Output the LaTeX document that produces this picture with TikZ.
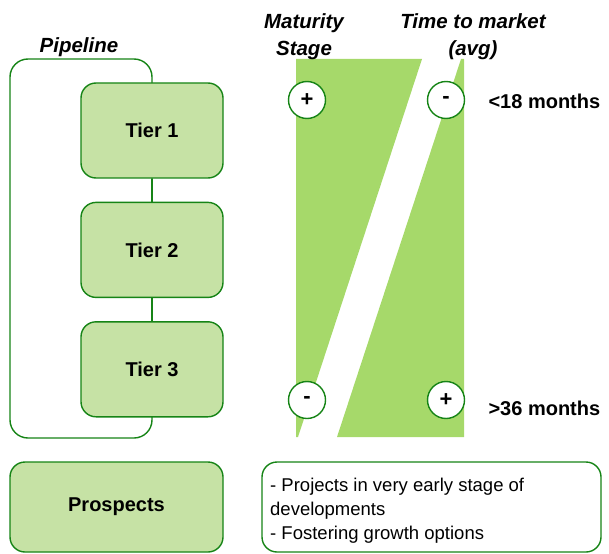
\documentclass[tikz,border=0pt]{standalone}
\definecolor{leafgreen}{RGB}{22,132,22}
\definecolor{tierfill}{RGB}{198,226,165}
\definecolor{stagegreen}{RGB}{166,217,106}
\usepackage{fontspec}
\setmainfont{Liberation Sans}
\usepackage{tikz}
\usetikzlibrary{positioning}
\tikzset{
  tier/.style={rectangle, rounded corners=15pt, draw=leafgreen, line width=1.4pt,
    fill=tierfill, text=black, font=\fontsize{20}{24}\selectfont\bfseries,
    minimum width=142pt, minimum height=95pt, inner sep=0pt},
  pipebox/.style={rectangle, rounded corners=18pt, draw=leafgreen, line width=1.4pt,
    fill=white, minimum width=142pt, minimum height=379pt, inner sep=0pt},
  notebox/.style={rectangle, rounded corners=15pt, draw=leafgreen, line width=1.4pt,
    fill=white, minimum width=339pt, minimum height=90pt, inner sep=0pt},
  signdot/.style={circle, draw=leafgreen, line width=1.4pt, fill=white,
    minimum size=37pt, inner sep=0pt, font=\fontsize{22}{24}\selectfont\bfseries},
  heading/.style={font=\fontsize{20.5}{27}\selectfont\bfseries\itshape, align=center},
  months/.style={anchor=west, font=\fontsize{20}{24}\selectfont\bfseries},
  link/.style={draw=leafgreen, line width=1.4pt},
}

\begin{document}
\begin{tikzpicture}[x=1pt, y=-1pt, node distance=23pt]
  \useasboundingbox (0,0) rectangle (609,553);
  % pipeline frame behind the tiers
  \node[pipebox] (pipe) at (81,248.5) {};
  \node[heading] (pipetitle) at (79,47) {Pipeline};
  \node[tier] (t1) at (152,130.5) {Tier 1};
  \node[tier, below=of t1] (t2) {Tier 2};
  \node[tier, below=of t2] (t3) {Tier 3};
  \draw[link] (t1)--(t2); \draw[link] (t2)--(t3);
  \node[tier, minimum width=213pt, minimum height=90pt] (prosp) at (116.5,507) {Prospects};
  % the two slanted bands
  \fill[stagegreen] (296,59) -- (422,59) -- (298,437) -- (296,437) -- cycle;
  \fill[stagegreen] (461,59) -- (464,59) -- (464,437) -- (337,437) -- cycle;
  \node[heading] (stage) at (304,37) {Maturity\\Stage};
  \node[heading] (ttm) at (473,37) {Time to market\\(avg)};
  \node[signdot] (pt) at (307,100) {+};
  \node[signdot] (mt) at (446,100) {-};
  \node[signdot] (mb) at (307,400) {-};
  \node[signdot] (pb) at (446,400) {+};
  \node[months] (fast) at (485,101) {<18 months};
  \node[months] (slow) at (485,408) {>36 months};
  \node[notebox] (note) at (431.5,507) {};
  \node[anchor=north west, align=left, font=\fontsize{18.5}{24}\selectfont,
    inner sep=0pt] (notetext) at (270,478)
    {- Projects in very early stage of\\developments\\- Fostering growth options};
\end{tikzpicture}
\end{document}
